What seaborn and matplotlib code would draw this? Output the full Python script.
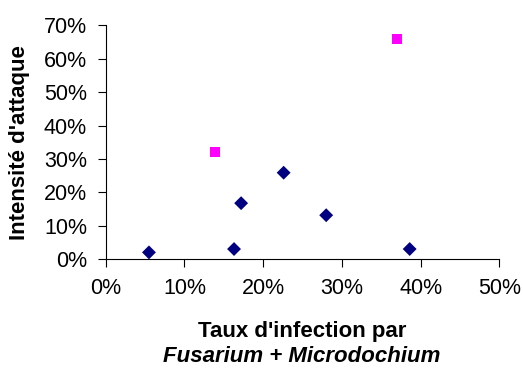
import matplotlib

matplotlib.use('Agg')
import matplotlib.pyplot as plt
from matplotlib.ticker import PercentFormatter
import pandas as pd
import seaborn as sns

# infection rate (x) and attack intensity (y), as fractions
x_bleu = [0.055, 0.163, 0.172, 0.226, 0.280, 0.386]
y_bleu = [0.021, 0.031, 0.168, 0.259, 0.132, 0.031]
x_rose = [0.139, 0.370]
y_rose = [0.322, 0.658]

x_ticks = [0, 0.1, 0.2, 0.3, 0.4, 0.5]
y_ticks = [0, 0.1, 0.2, 0.3, 0.4, 0.5, 0.6, 0.7]

df = pd.DataFrame({
    'x': x_bleu + x_rose,
    'y': y_bleu + y_rose,
    'groupe': ['a'] * len(x_bleu) + ['b'] * len(x_rose),
})

sns.set_style('white')
plt.rcParams['font.family'] = ['Liberation Sans', 'DejaVu Sans']
plt.rcParams['text.color'] = 'black'
plt.rcParams['xtick.color'] = 'black'
plt.rcParams['ytick.color'] = 'black'
plt.rcParams['xtick.labelcolor'] = 'black'
plt.rcParams['ytick.labelcolor'] = 'black'

fig = plt.figure(figsize=(5.23, 3.69), dpi=100)
ax = fig.add_axes([0.202, 0.297, 0.753, 0.635])

sns.scatterplot(data=df, x='x', y='y', hue='groupe', style='groupe',
                palette={'a': '#000080', 'b': '#FF00FF'},
                markers={'a': 'D', 'b': 's'}, s=50, linewidth=0,
                legend=False, ax=ax, clip_on=False)

ax.set_xlim(0, 0.5)
ax.set_ylim(0, 0.7)
ax.set_xticks(x_ticks)
ax.set_yticks(y_ticks)
ax.xaxis.set_major_formatter(PercentFormatter(1.0, decimals=0))
ax.yaxis.set_major_formatter(PercentFormatter(1.0, decimals=0))
ax.tick_params(axis='both', which='major', labelsize=15.5, length=5.5, width=0.8,
               color='black', labelcolor='black', direction='out',
               bottom=True, left=True, pad=8)

for side in ['top', 'right']:
    ax.spines[side].set_visible(False)
for side in ['left', 'bottom']:
    ax.spines[side].set_color('black')
    ax.spines[side].set_linewidth(0.8)

ax.set_xlabel('')
ax.set_ylabel('')

fig.text(0.037, 0.615, "Intensité d'attaque", rotation=90, ha='center', va='center',
         fontsize=16, fontweight='bold', color='black')
fig.text(0.577, 0.087, "Taux d'infection par", ha='center', va='baseline',
         fontsize=16, fontweight='bold', color='black')
fig.text(0.577, 0.018, "Fusarium + Microdochium", ha='center', va='baseline',
         fontsize=16, fontweight='bold', fontstyle='italic', color='black')

plt.savefig('out.png', dpi=100)
plt.close()
